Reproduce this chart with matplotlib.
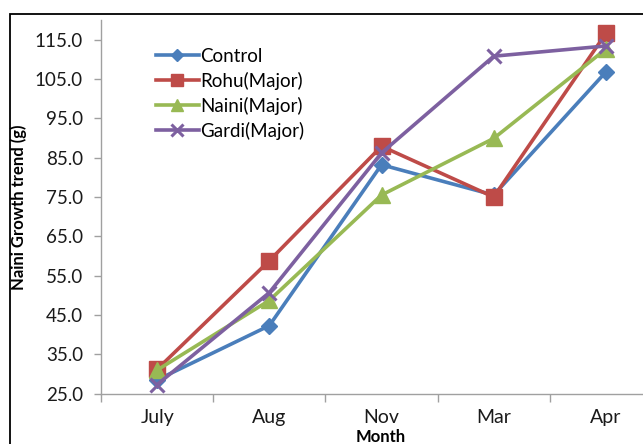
import matplotlib.pyplot as plt
from matplotlib.patches import Rectangle

months = ["July", "Aug", "Nov", "Mar", "Apr"]
control = [28.5, 42.3, 83.2, 75.5, 106.8]
rohu = [31.2, 58.8, 87.9, 75.0, 116.6]
naini = [31.0, 48.7, 75.5, 89.9, 112.6]
gardi = [27.3, 50.7, 86.2, 110.8, 113.4]
yticks = [25.0, 35.0, 45.0, 55.0, 65.0, 75.0, 85.0, 95.0, 105.0, 115.0]

series = [
    ("Control", control, "#4A7EBB", "D", 8),
    ("Rohu(Major)", rohu, "#BE4B48", "s", 11),
    ("Naini(Major)", naini, "#98B954", "^", 11),
    ("Gardi(Major)", gardi, "#7D60A0", "x", 10),
]

plt.rcParams["font.family"] = ["Lato", "DejaVu Sans"]

W, H = 643, 444
fig = plt.figure(figsize=(W / 100, H / 100), dpi=100)

# axes spans pixel x 101..662 and y 20..394 (top-left origin)
left, right, top, bottom = 101, 662, 20, 393.7
ax = fig.add_axes([left / W, 1 - bottom / H, (right - left) / W, (bottom - top) / H])

x = list(range(len(months)))
for name, vals, color, marker, ms in series:
    kw = dict(markeredgewidth=2.2) if marker == "x" else dict(markeredgecolor=color)
    ax.plot(x, vals, color=color, lw=2.6, marker=marker, ms=ms, label=name,
            solid_joinstyle="round", **kw)

ax.set_xlim(-0.5, 4.5)
ax.set_ylim(25, 120)
ax.set_yticks(yticks)
ax.set_yticklabels([f"{v:.1f}" for v in yticks], fontsize=13.5, color="#1a1a1a")
ax.set_xticks(x)
ax.set_xticklabels(months, fontsize=14, color="#1a1a1a")
ax.set_xticks([i - 0.5 for i in range(len(months) + 1)], minor=True)
ax.tick_params(axis="x", which="major", length=0, pad=11)
ax.tick_params(axis="x", which="minor", length=6, color="#A0A0A0", width=1)
ax.tick_params(axis="y", length=5, color="#A0A0A0", width=1, pad=8)

for s in ["top", "right"]:
    ax.spines[s].set_visible(False)
for s in ["left", "bottom"]:
    ax.spines[s].set_color("#A0A0A0")
    ax.spines[s].set_linewidth(1)

ax.set_ylabel("Naini Growth trend (g)", fontsize=12, fontweight="bold")
ax.yaxis.set_label_coords(-74 / (right - left), 0.5)
ax.set_xlabel("Month", fontsize=12, fontweight="bold")
ax.xaxis.set_label_coords((381 - left) / (right - left), -(429 - bottom) / (bottom - top))

handles, labels = ax.get_legend_handles_labels()
leg = ax.legend(handles, labels, loc="upper left",
                bbox_to_anchor=((148 - left) / (right - left), (bottom - 40.5) / (bottom - top)),
                frameon=False, fontsize=13.5, handlelength=2.3, handletextpad=0.1,
                labelspacing=0.37, borderaxespad=0, markerscale=0.8)

# outer chart border
fig.patches.append(Rectangle((9.5 / W, -0.1), 1.0, 1 - 14.5 / H + 0.1, transform=fig.transFigure,
                             fill=False, edgecolor="black", lw=1.3))

fig.savefig("out.png", dpi=100)
